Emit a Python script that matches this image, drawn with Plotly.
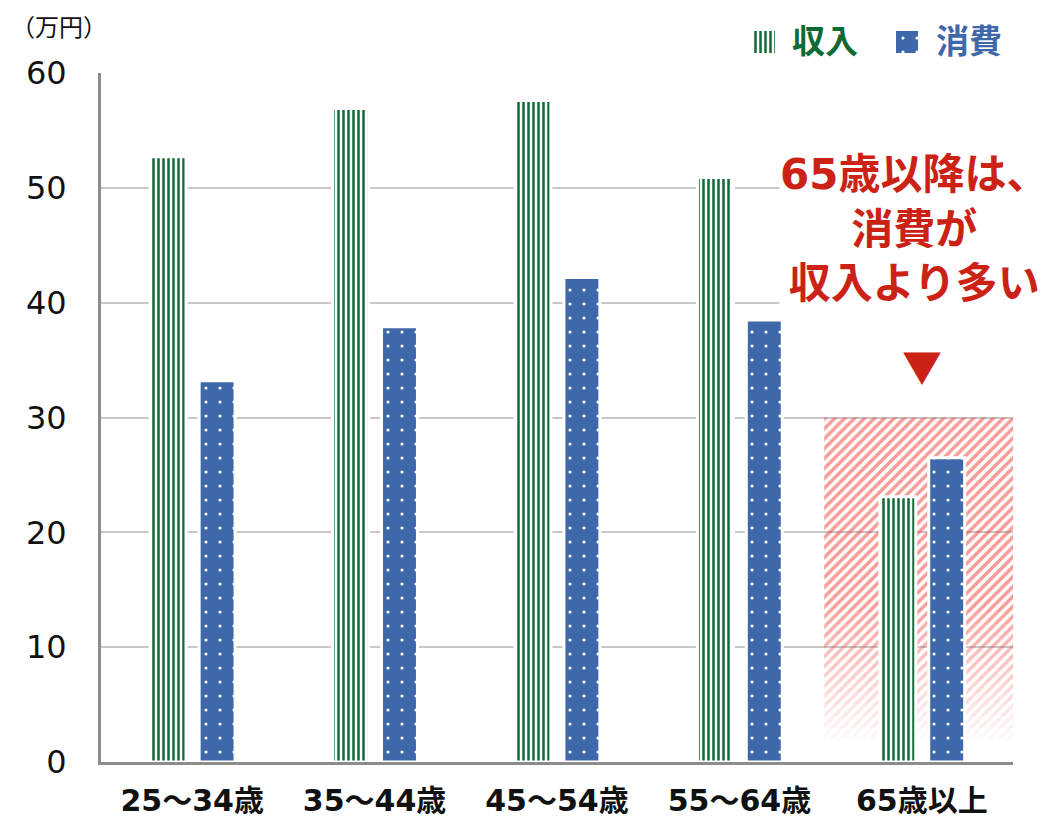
import plotly.graph_objects as go

categories = ["25～34歳", "35～44歳", "45～54歳", "55～64歳", "65歳以上"]
income = [52.7, 56.9, 57.6, 50.9, 23.1]
consumption = [33.2, 37.9, 42.2, 38.5, 26.5]
y_ticks = [0, 10, 20, 30, 40, 50, 60]
series_names = ["収入", "消費"]

highlight_category = "65歳以上"
highlight_top = 30
fade_from = 13
fade_to = 2

GREEN = "#0f6a36"
BLUE = "#3e68a9"
RED = "#cc2216"
FONT = "DejaVu Sans, Noto Sans CJK JP"

OFF = 8  # page body margin offset
W, H = 1053 - OFF, 818 - OFF
# desired on-screen plot area
SCR_L, SCR_R, SCR_T, SCR_B = 101, 1013, 20, 762
ML = SCR_L - OFF
MT = SCR_T - OFF
MR = W - (SCR_R - OFF)
MB = H - (SCR_B - OFF)
plot_h = H - MT - MB
plot_w = W - ML - MR
main_top_px = 73


def py(px):
    return (SCR_B - px) / plot_h


def pxx(px):
    return (px - SCR_L) / plot_w


bar_w = 0.197
inc_off = -0.230
con_off = 0.038

inc_pattern = dict(shape="|", fgcolor=GREEN, bgcolor="white", size=5, solidity=0.5,
                   fillmode="overlay", fgopacity=1)
con_pattern = dict(shape=".", fgcolor="white", bgcolor=BLUE, size=14, solidity=0.04,
                   fillmode="overlay", fgopacity=1)

fig = go.Figure()

# highlight hatched area with fade toward the bottom
hx, hbase, hy, hop = [], [], [], []
hx.append(highlight_category); hbase.append(fade_from); hy.append(highlight_top - fade_from); hop.append(1.0)
n = fade_from - fade_to
for i in range(n):
    b = fade_from - i - 1
    hx.append(highlight_category); hbase.append(b); hy.append(1)
    hop.append((b - fade_to + 1) / (n + 1))
fig.add_trace(go.Bar(
    x=hx, y=hy, base=hbase, width=1.035, offset=-0.535,
    marker=dict(color="rgba(0,0,0,0)", opacity=hop, line=dict(width=0),
                pattern=dict(shape="/", fgcolor="#ee3a32", bgcolor="rgba(255,255,255,0)",
                             size=7, solidity=0.5)),
    showlegend=False, hoverinfo="skip"))

fig.add_trace(go.Bar(
    x=categories, y=income, name=series_names[0], width=bar_w, offset=inc_off,
    marker=dict(color="white", line=dict(color="white", width=3), pattern=inc_pattern),
    showlegend=False))

fig.add_trace(go.Bar(
    x=categories, y=consumption, name=series_names[1], width=bar_w, offset=con_off,
    marker=dict(color=BLUE, line=dict(color="white", width=3), pattern=con_pattern),
    showlegend=False))

# legend swatches on their own small axes
fig.add_trace(go.Bar(x=[0], y=[1], width=1, xaxis="x2", yaxis="y2",
                     marker=dict(color="white", line=dict(width=0), pattern=inc_pattern),
                     showlegend=False, hoverinfo="skip"))
fig.add_trace(go.Bar(x=[0], y=[1], width=1, xaxis="x3", yaxis="y3",
                     marker=dict(color=BLUE, line=dict(width=0), pattern=con_pattern),
                     showlegend=False, hoverinfo="skip"))

hidden = dict(visible=False, fixedrange=True)
fig.update_layout(
    width=W, height=H,
    margin=dict(l=ML, r=MR, t=MT, b=MB),
    plot_bgcolor="white", paper_bgcolor="white",
    barmode="overlay",
    font=dict(family=FONT, color="#111111"),
    showlegend=False,
    xaxis=dict(type="category", categoryorder="array", categoryarray=categories,
               showgrid=False, showline=True, linecolor="#8c8c8c", linewidth=3,
               tickfont=dict(size=30, family=FONT, color="#111111", weight="bold"),
               ticks="", ticklabelstandoff=10, range=[-0.5, 4.5], automargin=False),
    yaxis=dict(range=[0, 60], tickvals=y_ticks, showgrid=True, gridcolor="#c8c8c8", gridwidth=2,
               showline=True, linecolor="#8c8c8c", linewidth=3, zeroline=False,
               domain=[0, py(main_top_px)],
               tickfont=dict(size=32, family=FONT, color="#111111"),
               ticks="", ticklabelstandoff=25, automargin=False),
    xaxis2=dict(domain=[pxx(753), pxx(775)], range=[-0.5, 0.5], anchor="y2", **hidden),
    yaxis2=dict(domain=[py(53), py(31)], range=[0, 1], anchor="x2", **hidden),
    xaxis3=dict(domain=[pxx(896), pxx(918)], range=[-0.5, 0.5], anchor="y3", **hidden),
    yaxis3=dict(domain=[py(53), py(31)], range=[0, 1], anchor="x3", **hidden),
)

fig.add_annotation(text=f"<b>{series_names[0]}</b>", xref="paper", yref="paper", x=pxx(790), y=py(42),
                   xanchor="left", yanchor="middle", showarrow=False,
                   font=dict(size=33, family=FONT, color=GREEN))
fig.add_annotation(text=f"<b>{series_names[1]}</b>", xref="paper", yref="paper", x=pxx(934), y=py(42),
                   xanchor="left", yanchor="middle", showarrow=False,
                   font=dict(size=33, family=FONT, color=BLUE))

fig.add_annotation(text="（万円）", xref="paper", yref="paper", x=pxx(10), y=py(28),
                   xanchor="left", yanchor="middle", showarrow=False, borderpad=0,
                   font=dict(size=24, family=FONT, color="#111111"))

fig.add_annotation(text="<b>65歳以降は、</b><br><b>消費が</b><br><b>収入より多い</b>",
                   xref="x", yref="y", x=4.0, y=46.4, xshift=-8, xanchor="center", yanchor="middle",
                   showarrow=False, align="center", bgcolor="white", borderpad=0,
                   font=dict(size=42, family=FONT, color=RED))
fig.add_annotation(text="▼", xref="x", yref="y", x=4.0, y=34.6, xanchor="center", yanchor="middle",
                   showarrow=False, font=dict(size=40, family="Noto Sans CJK JP", color=RED))

fig.write_html("out.html")
